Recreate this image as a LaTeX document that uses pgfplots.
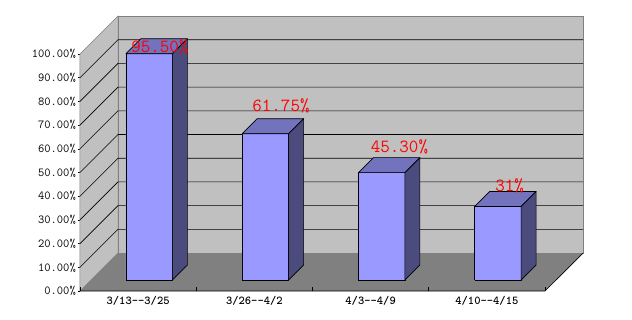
\documentclass[border=0pt]{standalone}
\usepackage{pgfplots}
\pgfplotsset{compat=1.18}
\usepackage{pgfplotstable}
\definecolor{frontc}{HTML}{9999FF}
\definecolor{topc}{HTML}{7373BD}
\definecolor{sidec}{HTML}{4B4B7D}
\definecolor{wall}{HTML}{C0C0C0}
\definecolor{floorc}{HTML}{808080}

% category, value, label position, label text
\pgfplotstableread{
c v lx ly lab
0 95.50 0.188 102.95 95.50
1 61.75 1.229 78.06 61.75
2 45.30 2.248 60.76 45.30
3 31 3.195 44.30 31
}\data

% bar faces: a = horizontal offset (px), h = fraction of value, d = depth (px)
\pgfplotstableread{
a h d
-23.25 0 11
23.25 0 11
23.25 1 11
-23.25 1 11
-23.25 0 11
}\frontface
\pgfplotstableread{
a h d
-23.25 1 11
23.25 1 11
23.25 1 26
-23.25 1 26
-23.25 1 11
}\topface
\pgfplotstableread{
a h d
23.25 0 11
23.25 0 26
23.25 1 26
23.25 1 11
23.25 0 11
}\sideface
\pgfplotstableread{
x t
-0.5 0
-0.1731 1
3.8269 1
}\gridshape

\begin{document}
\begin{tikzpicture}
\begin{axis}[
  name=ax,
  width=465pt, height=237pt, scale only axis,
  xmin=-0.5, xmax=3.5, ymin=0, ymax=100,
  clip=false,
  axis line style={draw=none},
  tick pos=left,
  tick align=outside,
  major tick length=2pt,
  xtick={0,1,2,3},
  xticklabels={3/13-{}-3/25, 3/26-{}-4/2, 4/3-{}-4/9, 4/10-{}-4/15},
  xtick style={draw=none},
  ytick={0,10,...,100},
  ytick style={black, line width=0.4pt},
  /pgf/number format/assume math mode=true,
  yticklabel={\pgfmathprintnumber[fixed,fixed zerofill,precision=2]{\tick}\%},
  y tick label style={font=\ttfamily\fontsize{12.2}{12}\selectfont, text=black, inner sep=2pt},
  x tick label style={font=\ttfamily\bfseries\fontsize{12}{12}\selectfont, text=black},
]
% walls and floor
\addplot[fill=wall, draw=floorc, line width=0.5pt] coordinates {(-0.5,0)(-0.1731,16.03)(-0.1731,116.03)(-0.5,100)(-0.5,0)};
\addplot[fill=wall, draw=floorc, line width=0.5pt] coordinates {(-0.1731,16.03)(3.8269,16.03)(3.8269,116.03)(-0.1731,116.03)(-0.1731,16.03)};
\addplot[fill=floorc, draw=none] coordinates {(-0.5,0)(3.5,0)(3.8269,16.03)(-0.1731,16.03)(-0.5,0)};
% gridlines
\pgfplotsinvokeforeach{1,...,9}{
  \addplot[black, line width=0.6pt, mark=none] table[x=x, y expr=\thisrow{t}*16.03+#1*10] {\gridshape};
}
% floor edges and ticks
\addplot[black, line width=0.7pt, mark=none] coordinates {(-0.5,0)(3.5,0)(3.8269,16.03)};
\addplot[ycomb, black, line width=0.6pt, mark=none] coordinates {(-0.5,1.8)(0.5,1.8)(1.5,1.8)(2.5,1.8)(3.5,1.8)};
% bars
\pgfplotsinvokeforeach{0,1,2,3}{
  \pgfplotstablegetelem{#1}{v}\of\data
  \let\val\pgfplotsretval
  \addplot[fill=frontc, draw=black, line width=0.7pt, line join=round, mark=none]
    table[x expr=#1+(\thisrow{a}+\thisrow{d})/116.25, y expr=\thisrow{h}*\val+\thisrow{d}/2.37] {\frontface};
  \addplot[fill=topc, draw=black, line width=0.7pt, line join=round, mark=none]
    table[x expr=#1+(\thisrow{a}+\thisrow{d})/116.25, y expr=\thisrow{h}*\val+\thisrow{d}/2.37] {\topface};
  \addplot[fill=sidec, draw=black, line width=0.7pt, line join=round, mark=none]
    table[x expr=#1+(\thisrow{a}+\thisrow{d})/116.25, y expr=\thisrow{h}*\val+\thisrow{d}/2.37] {\sideface};
}
% data labels
\addplot[draw=none, mark=none, point meta=explicit symbolic,
  nodes near coords={\pgfplotspointmeta\%},
  nodes near coords align={center},
  every node near coord/.append style={anchor=center, text=red, inner sep=0pt,
    font=\ttfamily\fontsize{18.5}{18}\selectfont}]
  table[x=lx, y=ly, meta=lab] {\data};
\end{axis}
\pgfresetboundingbox
\path ([shift={(-80pt,-28pt)}]ax.south west) rectangle ([shift={(87pt,54pt)}]ax.north east);
\end{tikzpicture}
\end{document}
